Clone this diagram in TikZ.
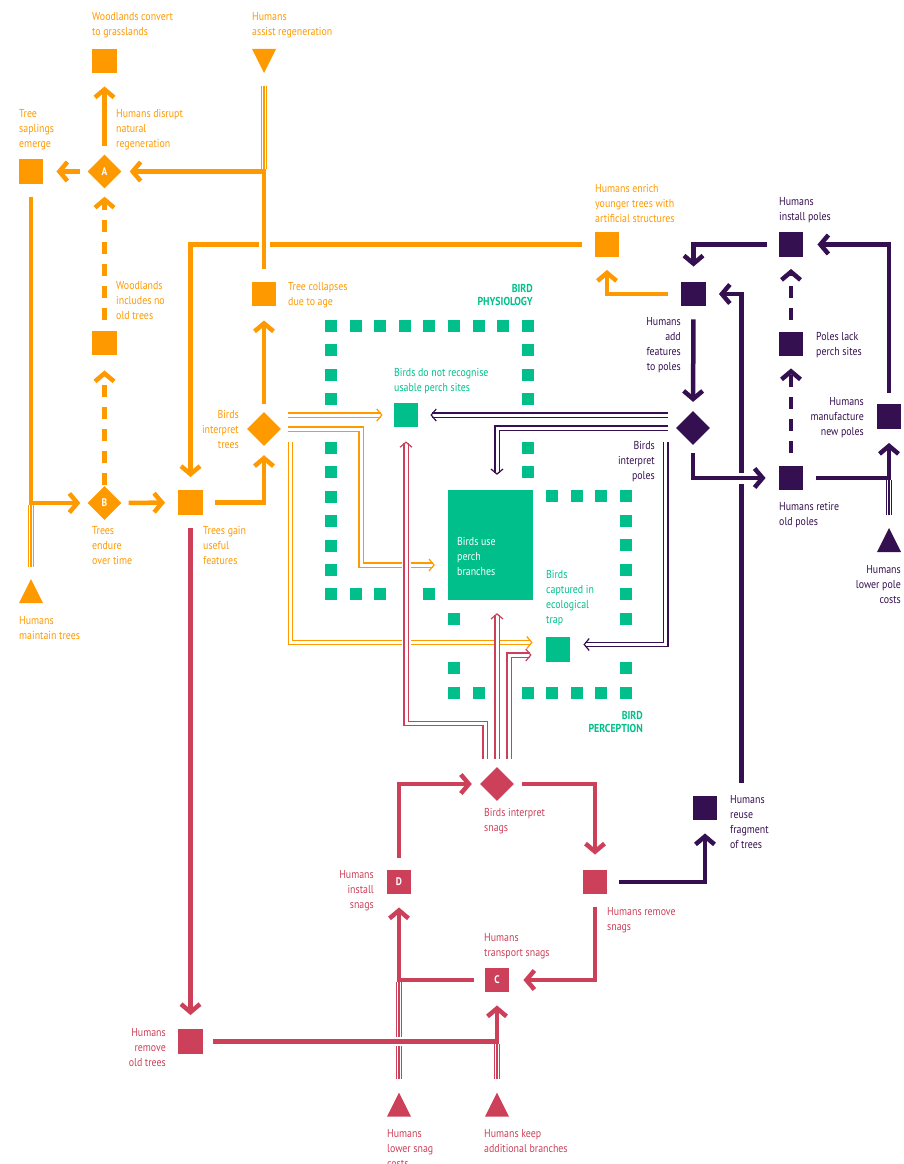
\documentclass[tikz,border=0pt]{standalone}
\usepackage{fontspec}
\setmainfont{PT Sans}[FakeStretch=0.86]
\usetikzlibrary{arrows.meta, shapes.geometric}
\definecolor{org}{HTML}{FF9900}
\definecolor{plum}{HTML}{351050}
\definecolor{rose}{HTML}{CC4059}
\definecolor{jade}{HTML}{00BF8A}

\begin{document}
\begin{tikzpicture}[x=1pt, y=-1pt,
	sq/.style={fill=#1, minimum size=24.5pt, inner sep=0pt, text=white, font=\fontsize{11}{11}\selectfont\bfseries},
	dia/.style={fill=#1, diamond, minimum width=34pt, minimum height=34pt, inner sep=0pt, text=white, font=\fontsize{11}{11}\selectfont\bfseries},
	arr/.style={draw=#1, line width=4.5pt, shorten <=9pt, shorten >=12pt, -{Straight Barb[length=8pt, width=19pt]}},
	dashflow/.style={arr=#1, dash pattern=on 12pt off 10pt},
	dl/.style={draw=#1, line width=1.2pt, double=white, double distance=3pt, -{Straight Barb[length=5pt, width=12pt, line width=1.2pt]}},
	tl/.style={draw=#1, line width=6.5pt, postaction={draw=white, line width=4pt}, postaction={draw=#1, line width=1.3pt}},
	halo/.style={preaction={draw=white, line width=#1, -}},
	lab/.style={text=#1, inner sep=0pt, align=left, anchor=north west, font=\fontsize{11.5}{15}\selectfont},
	labr/.style={lab=#1, align=right, anchor=north east}]
	\useasboundingbox (0,0) rectangle (903,1164);

	% dotted frames
	\foreach \i in {0,...,8} \fill[jade] ({331+24.6*\i-6},320) rectangle ++(12,12);
	\foreach \j in {1,2,3,5,6,7,8,9,10,11} \fill[jade] (325,{326+24.4*\j-6}) rectangle ++(12,12);
	\foreach \j in {1,2,3,5,6} \fill[jade] (522,{326+24.4*\j-6}) rectangle ++(12,12);
	\foreach \i in {1,2,4} \fill[jade] ({331+24.6*\i-6},588.4) rectangle ++(12,12);
	\foreach \i in {4,...,7} \fill[jade] ({454+24.57*\i-6},490) rectangle ++(12,12);
	\foreach \j in {1,2,3,4,5,7,8} \fill[jade] (620,{496+24.6*\j-6}) rectangle ++(12,12);
	\foreach \i in {0,1,3,4,5,6} \fill[jade] ({454+24.57*\i-6},686.8) rectangle ++(12,12);
	\foreach \j in {5,7} \fill[jade] (448,{496+24.6*\j-6}) rectangle ++(12,12);

	% orange nodes
	\node[sq=org] (convert) at (104.5,61) {};
	\node[sq=org] (saplings) at (31,171.5) {};
	\node[dia=org] (A) at (104.5,171.5) {A};
	\node[sq=org] (noold) at (104.5,343) {};
	\node[dia=org] (B) at (104.5,503) {B};
	\node[sq=org] (gain) at (190.5,502.5) {};
	\node[dia=org] (bit) at (264,429) {};
	\node[sq=org] (collapse) at (264,294) {};
	\node[sq=org] (enrich) at (607,244.5) {};
	\coordinate (assist) at (264,61);
	\coordinate (maintain) at (31,591);
	\fill[org] (assist) ++(-12,-12) -- ++(24,0) -- ++(-12,24) -- cycle;
	\fill[org] (maintain) ++(-12,12) -- ++(24,0) -- ++(-12,-24) -- cycle;

	% purple nodes
	\node[sq=plum] (install) at (791,244.5) {};
	\node[sq=plum] (addfeat) at (693.5,294) {};
	\node[sq=plum] (lack) at (791,344) {};
	\node[sq=plum] (manuf) at (889,416.5) {};
	\node[dia=plum] (bip) at (693,428) {};
	\node[sq=plum] (retire) at (791,478) {};
	\node[sq=plum] (reuse) at (705,808) {};
	\coordinate (lowerpole) at (889,540);
	\fill[plum] (lowerpole) ++(-12,12) -- ++(24,0) -- ++(-12,-24) -- cycle;

	% green nodes
	\node[fill=jade, minimum width=85pt, minimum height=110pt, inner sep=0pt] (perch) at (490.5,545) {};
	\node[sq=jade] (norecog) at (406,415) {};
	\node[sq=jade] (trap) at (558,649.5) {};

	% red nodes
	\node[dia=rose] (bis) at (497,784) {};
	\node[sq=rose] (D) at (399,882) {D};
	\node[sq=rose] (rsnag) at (595,882) {};
	\node[sq=rose] (C) at (497,980) {C};
	\node[sq=rose] (removeold) at (190.5,1041.5) {};
	\coordinate (lowersnag) at (399,1104.5);
	\coordinate (keep) at (497,1104.5);
	\fill[rose] (lowersnag) ++(-12,12) -- ++(24,0) -- ++(-12,-24) -- cycle;
	\fill[rose] (keep) ++(-12,12) -- ++(24,0) -- ++(-12,-24) -- cycle;

	% orange links
	\draw[arr=org, shorten <=8pt, shorten >=13pt] (A) -- (convert);
	\draw[arr=org, shorten <=7pt, shorten >=13pt] (A) -- (saplings);
	\draw[arr=org, shorten <=13pt, shorten >=13pt] (enrich) -| (gain);
	\draw[arr=org, halo=11pt, shorten <=13pt, shorten >=8pt] (collapse) |- (A);
	\draw[tl=org, shorten <=25pt, shorten >=2.25pt] (assist) -- (assist |- A);
	\draw[arr=org, shorten <=13pt, shorten >=7pt] (saplings) |- (B);
	\draw[tl=org, shorten <=24pt, shorten >=2.25pt] (maintain) -- (maintain |- B);
	\draw[dashflow=org, shorten <=11pt, shorten >=8pt] (noold) -- (A);
	\draw[dashflow=org, shorten <=1pt, shorten >=15pt] (B) -- (noold);
	\draw[arr=org, shorten <=7pt, shorten >=13pt] (B) -- (gain);
	\draw[arr=org, shorten <=12pt, shorten >=9pt] (gain) -| (bit);
	\draw[arr=org, shorten <=8pt, shorten >=14pt] (bit) -- (collapse);
	\draw[arr=org, shorten <=13pt, shorten >=13pt] (addfeat) -| (enrich);

	% red links
	\draw[arr=rose, shorten <=13pt, shorten >=14pt] (gain) -- (removeold);
	\draw[arr=rose, shorten <=11pt, shorten >=13pt] (C) -| (D);
	\draw[tl=rose, shorten <=25.5pt, shorten >=2.25pt] (lowersnag) -- (lowersnag |- C);
	\draw[arr=rose, halo=9pt, shorten <=10pt, shorten >=13pt] (removeold) -| (C);
	\draw[tl=rose, shorten <=25.5pt, shorten >=2.25pt] (keep) -- (keep |- removeold);
	\draw[arr=rose, shorten <=12pt, shorten >=8pt] (D) |- (bis);
	\draw[arr=rose, shorten <=8pt, shorten >=15pt] (bis) -| (rsnag);
	\draw[arr=rose, shorten <=13pt, shorten >=14pt] (rsnag) |- (C);

	% purple links
	\draw[arr=plum, shorten <=12pt, shorten >=15pt] (install) -| (addfeat);
	\draw[arr=plum, shorten <=13pt, shorten >=9pt] (addfeat) -- (bip);
	\draw[arr=plum, shorten <=13pt, shorten >=13pt] ([xshift=36.5pt]reuse.north) |- (addfeat);
	\draw[arr=plum, halo=11pt, shorten <=8pt, shorten >=13pt] (bip) |- (retire);
	\draw[dashflow=plum, shorten <=13pt, shorten >=12pt] (retire) -- (lack);
	\draw[dashflow=plum, shorten <=12pt, shorten >=12pt] (lack) -- (install);
	\draw[arr=plum, shorten <=13pt, shorten >=14pt] (retire) -| (manuf);
	\draw[tl=plum, shorten <=25pt, shorten >=2.25pt] (lowerpole) -- (lowerpole |- retire);
	\draw[arr=plum, shorten <=11pt, shorten >=14pt] (manuf) |- (install);
	\draw[arr=plum, shorten <=12pt, shorten >=13pt] (rsnag) -| (reuse);

	% bird interpretations
	\draw[dl=org, shorten >=11pt] ([xshift=7pt, yshift=14pt]bit.east) -- (norecog);
	\draw[dl=org, shorten >=13pt] ([xshift=7pt]bit.east) -| (361,565) -- ([yshift=-20pt]perch.west);
	\draw[dl=org, shorten >=13pt] ([xshift=9pt, yshift=-13pt]bit.east) |- ([yshift=7pt]trap.west);
	\draw[dl=plum, shorten >=12pt] ([xshift=-8pt, yshift=13pt]bip.west) -- (norecog);
	\draw[dl=plum, shorten >=15pt] ([xshift=-8pt]bip.west) -| ([xshift=6.5pt]perch.north);
	\draw[dl=plum, shorten >=13pt] ([xshift=-10pt, yshift=-14pt]bip.west) |- ([yshift=5pt]trap.east);
	\draw[dl=rose, halo=9pt, shorten >=14pt] ([xshift=-12pt, yshift=8pt]bis.north) |- (406,723.5) -- (norecog);
	\draw[dl=rose, shorten >=13pt] ([yshift=8pt]bis.north) -- ([xshift=6.5pt]perch.south);
	\draw[dl=rose, shorten >=14pt] ([xshift=12pt, yshift=8pt]bis.north) |- ([yshift=-5.5pt]trap.west);

	% labels
	\node[lab=org] (tconvert) at (92,12) {Woodlands convert\\to grasslands};
	\node[lab=org] (tassist) at (252,12) {Humans\\assist regeneration};
	\node[lab=org] (tsaplings) at (19,109) {Tree\\saplings\\emerge};
	\node[lab=org] (tdisrupt) at (116,109) {Humans disrupt\\natural\\regeneration};
	\node[lab=org] (tnoold) at (116,281) {Woodlands\\includes no\\old trees};
	\node[lab=org] (tendure) at (92,526) {Trees\\endure\\over time};
	\node[lab=org] (tgain) at (203,526) {Trees gain\\useful\\features};
	\node[lab=org] (tmaintain) at (19,616) {Humans\\maintain trees};
	\node[labr=org] (tbit) at (239,410) {Birds\\interpret\\trees};
	\node[lab=org] (tcollapse) at (288,282) {Tree collapses\\due to age};
	\node[lab=org] (tenrich) at (595,184) {Humans enrich\\younger trees with\\artificial structures};
	\node[lab=plum] (tinstall) at (779,197) {Humans\\install poles};
	\node[labr=plum] (taddfeat) at (681,317) {Humans\\add\\features\\to poles};
	\node[lab=plum] (tlack) at (816,332) {Poles lack\\perch sites};
	\node[labr=plum] (tmanuf) at (864,397) {Humans\\manufacture\\new poles};
	\node[labr=plum] (tbip) at (655,441) {Birds\\interpret\\poles};
	\node[lab=plum] (tretire) at (779,502) {Humans retire\\old poles};
	\node[labr=plum] (tlowerpole) at (901,565) {Humans\\lower pole\\costs};
	\node[lab=plum] (treuse) at (730,795) {Humans\\reuse\\fragment\\of trees};
	\node[labr=jade, font=\fontsize{11.5}{13.5}\selectfont\bfseries] (tphys) at (533,284) {BIRD\\PHYSIOLOGY};
	\node[lab=jade] (tnorecog) at (394,368) {Birds do not recognise\\usable perch sites};
	\node[lab=white] (tperch) at (457,537) {Birds use\\perch\\branches};
	\node[lab=jade] (ttrap) at (546,570) {Birds\\captured in\\ecological\\trap};
	\node[labr=jade, font=\fontsize{11.5}{13.5}\selectfont\bfseries] (tperc) at (643,711) {BIRD\\PERCEPTION};
	\node[lab=rose] (tbis) at (484,808) {Birds interpret\\snags};
	\node[labr=rose] (tD) at (374,870) {Humans\\install\\snags};
	\node[lab=rose] (trsnag) at (607,907) {Humans remove\\snags};
	\node[lab=rose] (tC) at (484,933) {Humans\\transport snags};
	\node[labr=rose] (tremoveold) at (166,1028) {Humans\\remove\\old trees};
	\node[lab=rose] (tlowersnag) at (387,1129) {Humans\\lower snag\\costs};
	\node[lab=rose] (tkeep) at (484,1129) {Humans keep\\additional branches};
\end{tikzpicture}
\end{document}
